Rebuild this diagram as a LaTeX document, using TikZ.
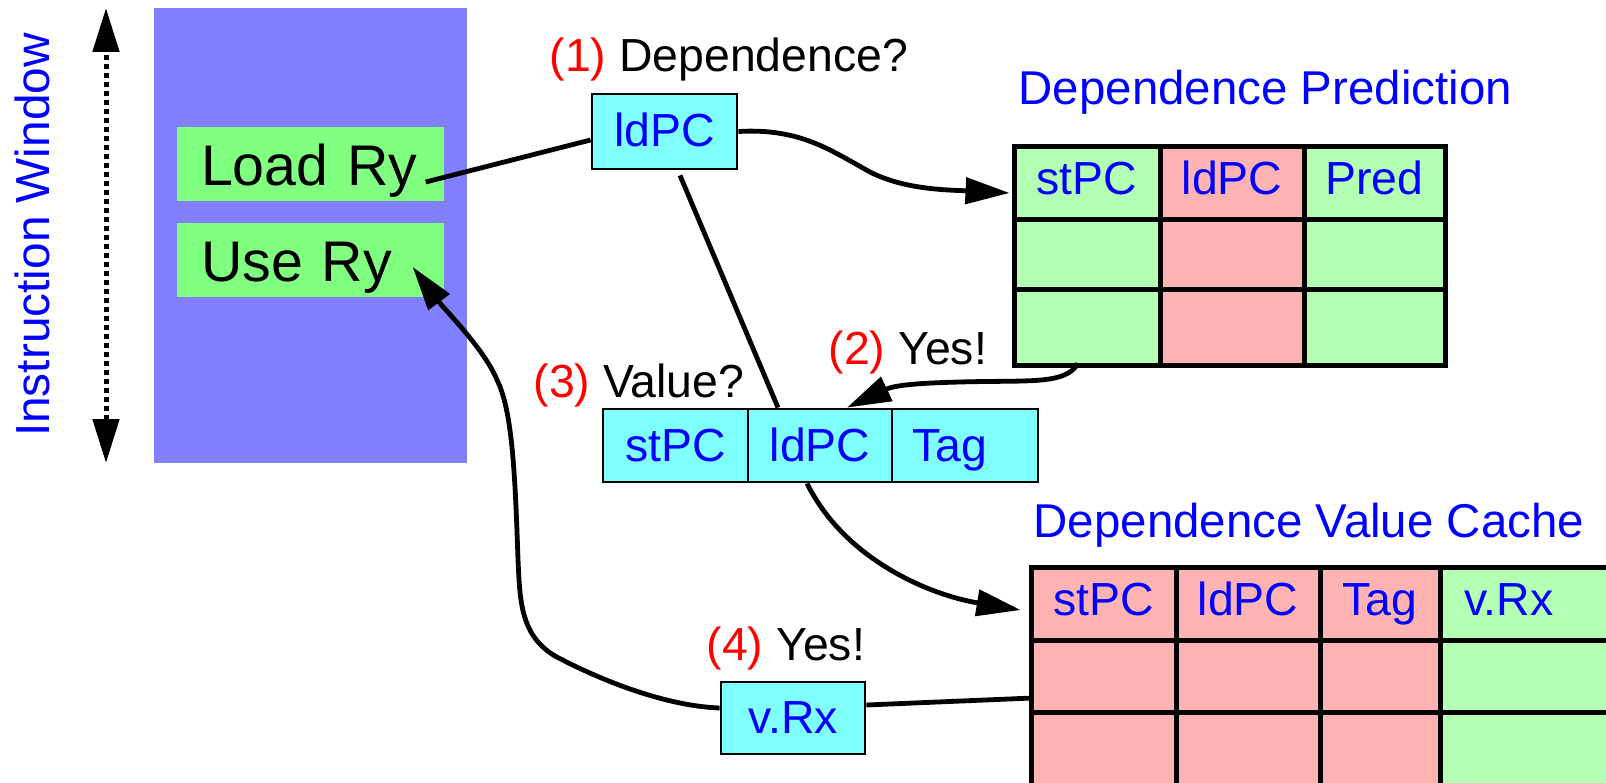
\documentclass[tikz,border=0pt]{standalone}
\usepackage{fontspec}
\setmainfont{Liberation Sans}
\usepackage{tikz}
\usetikzlibrary{arrows.meta}

\definecolor{winpurple}{HTML}{8080FF}
\definecolor{instgreen}{HTML}{80FF80}
\definecolor{boxcyan}{HTML}{80FFFF}
\definecolor{tabgreen}{HTML}{B3FFB3}
\definecolor{tabpink}{HTML}{FFB3B3}

\tikzset{
  lbl/.style={inner sep=0pt, anchor=base west, font=\fontsize{13.2}{16}\selectfont},
  ttl/.style={inner sep=0pt, anchor=base west, text=blue, font=\fontsize{13.5}{16}\selectfont},
  instr/.style={fill=instgreen, inner ysep=0pt, inner xsep=0.24cm, text width=2.19cm,
    align=left, minimum height=0.74cm, text height=0.44cm, text depth=0pt,
    font=\fontsize{16.3}{19}\selectfont},
  qbox/.style={draw, line width=0.028cm, fill=boxcyan, inner sep=0pt, text=blue,
    text height=0.34cm, text depth=0.03cm, font=\fontsize{13.2}{16}\selectfont},
  tcell/.style={draw, line width=0.05cm, inner sep=0pt, text=blue,
    text height=0.34cm, text depth=0.11cm, font=\fontsize{13.2}{16}\selectfont},
  link/.style={line width=0.048cm},
  flow/.style={line width=0.048cm, -{Triangle[length=0.44cm,width=0.26cm]}},
  winarrow/.style={line width=0.05cm, dash pattern=on 0.055cm off 0.035cm,
    {Triangle[length=0.44cm,width=0.26cm]}-{Triangle[length=0.44cm,width=0.26cm]}}
}

\begin{document}
\begin{tikzpicture}
  \useasboundingbox (0,0) rectangle (16.06,7.82);

  %% instruction window
  \node[rotate=90, inner sep=0pt, text=blue, font=\fontsize{13.6}{16}\selectfont]
    (iwlabel) at (0.32,5.47) {Instruction Window};
  \coordinate (wintop) at (1.06,7.74);
  \coordinate (winbot) at (1.06,3.19);
  \draw[winarrow] (winbot) -- (wintop);

  \node[fill=winpurple, minimum width=3.13cm, minimum height=4.55cm] (iwin) at (3.105,5.465) {};
  \node[instr] (loadry) at (3.105,6.18) {Load Ry};
  \node[instr] (usery) at (3.105,5.22) {Use Ry};

  %% step 1
  \node[lbl] (q1) at (5.49,7.10) {\textcolor{red}{(1)} Dependence?};
  \node[qbox, minimum width=1.45cm, minimum height=0.75cm] (ldpcq) at (6.645,6.505) {ldPC};

  %% dependence prediction table
  \node[ttl] (dptitle) at (10.18,6.77) {Dependence Prediction};
  % header row
  \node[tcell, fill=tabgreen, minimum width=1.46cm, minimum height=0.73cm] (dp11) at (10.87,5.985) {stPC};
  \node[tcell, fill=tabpink, minimum width=1.44cm, minimum height=0.73cm] (dp12) at (12.32,5.985) {ldPC};
  \node[tcell, fill=tabgreen, minimum width=1.41cm, minimum height=0.73cm] (dp13) at (13.745,5.985) {Pred};
  % entries
  \node[tcell, fill=tabgreen, minimum width=1.46cm, minimum height=0.70cm] (dp21) at (10.87,5.27) {};
  \node[tcell, fill=tabpink, minimum width=1.44cm, minimum height=0.70cm] (dp22) at (12.32,5.27) {};
  \node[tcell, fill=tabgreen, minimum width=1.41cm, minimum height=0.70cm] (dp23) at (13.745,5.27) {};
  \node[tcell, fill=tabgreen, minimum width=1.46cm, minimum height=0.75cm] (dp31) at (10.87,4.545) {};
  \node[tcell, fill=tabpink, minimum width=1.44cm, minimum height=0.75cm] (dp32) at (12.32,4.545) {};
  \node[tcell, fill=tabgreen, minimum width=1.41cm, minimum height=0.75cm] (dp33) at (13.745,4.545) {};

  %% steps 2 and 3
  \node[lbl] (q2) at (8.28,4.18) {\textcolor{red}{(2)} Yes!};
  \node[lbl] (q3) at (5.33,3.85) {\textcolor{red}{(3)} Value?};
  \node[qbox, minimum width=1.45cm, minimum height=0.73cm] (mstpc) at (6.755,3.365) {stPC};
  \node[qbox, minimum width=1.44cm, minimum height=0.73cm] (mldpc) at (8.20,3.365) {ldPC};
  \node[qbox, minimum height=0.73cm, inner xsep=0.2cm, text width=1.06cm, align=left]
    (mtag) at (9.65,3.365) {Tag};

  %% dependence value cache
  \node[ttl] (dvctitle) at (10.33,2.45) {Dependence Value Cache};
  % header row
  \node[tcell, fill=tabpink, minimum width=1.45cm, minimum height=0.73cm] (dvc11) at (11.035,1.785) {stPC};
  \node[tcell, fill=tabpink, minimum width=1.44cm, minimum height=0.73cm] (dvc12) at (12.48,1.785) {ldPC};
  \node[tcell, fill=tabpink, minimum width=1.20cm, minimum height=0.73cm] (dvc13) at (13.80,1.785) {Tag};
  \node[tcell, fill=tabgreen, minimum height=0.73cm, inner xsep=0.24cm, text width=1.32cm, align=left]
    (dvc14) at (15.30,1.785) {v.Rx};
  % entries
  \node[tcell, fill=tabpink, minimum width=1.45cm, minimum height=0.72cm] (dvc21) at (11.035,1.06) {};
  \node[tcell, fill=tabpink, minimum width=1.44cm, minimum height=0.72cm] (dvc22) at (12.48,1.06) {};
  \node[tcell, fill=tabpink, minimum width=1.20cm, minimum height=0.72cm] (dvc23) at (13.80,1.06) {};
  \node[tcell, fill=tabgreen, minimum width=1.80cm, minimum height=0.72cm] (dvc24) at (15.30,1.06) {};
  \node[tcell, fill=tabpink, minimum width=1.45cm, minimum height=0.74cm] (dvc31) at (11.035,0.33) {};
  \node[tcell, fill=tabpink, minimum width=1.44cm, minimum height=0.74cm] (dvc32) at (12.48,0.33) {};
  \node[tcell, fill=tabpink, minimum width=1.20cm, minimum height=0.74cm] (dvc33) at (13.80,0.33) {};
  \node[tcell, fill=tabgreen, minimum width=1.80cm, minimum height=0.74cm] (dvc34) at (15.30,0.33) {};

  %% step 4
  \node[lbl] (q4) at (7.06,1.22) {\textcolor{red}{(4)} Yes!};
  \node[qbox, minimum width=1.44cm, minimum height=0.72cm] (vrx) at (7.93,0.64) {v.Rx};

  %% connectors
  \draw[link] ([shift={(-0.19,-0.18)}]loadry.east) -- ([yshift=-0.085cm]ldpcq.west);
  \draw[flow] (ldpcq.east) .. controls (8.00,6.54) and (8.30,6.32) .. (8.70,6.10)
    .. controls (9.05,5.92) and (9.50,5.92) .. ([shift={(-0.02,-0.095)}]dp11.west);
  \draw[flow] ([shift={(-0.09,0.04)}]dp31.south) .. controls (10.65,3.97) and (10.30,4.02) .. (9.60,4.00)
    .. controls (9.20,3.99) and (8.95,3.97) .. ([xshift=0.27cm]mldpc.north);
  \draw[link] ([shift={(0.155,-0.05)}]ldpcq.south) -- ([xshift=-0.42cm]mldpc.north);
  \draw[flow] ([xshift=-0.13cm]mldpc.south) .. controls (8.45,2.22) and (9.30,1.87)
    .. ([shift={(-0.08,-0.065)}]dvc11.west);
  \draw[link] ([yshift=0.13cm]vrx.east) -- ([shift={(0.04,-0.22)}]dvc21.west);
  \draw[flow] ([yshift=0.10cm]vrx.west) .. controls (6.65,0.76) and (6.00,1.02) .. (5.55,1.26)
    .. controls (5.20,1.47) and (5.20,1.82) .. (5.18,2.22)
    .. controls (5.15,3.12) and (5.12,3.72) .. (4.97,4.02)
    .. controls (4.85,4.32) and (4.45,4.72) .. ([shift={(-0.32,-0.07)}]usery.east);
\end{tikzpicture}
\end{document}
